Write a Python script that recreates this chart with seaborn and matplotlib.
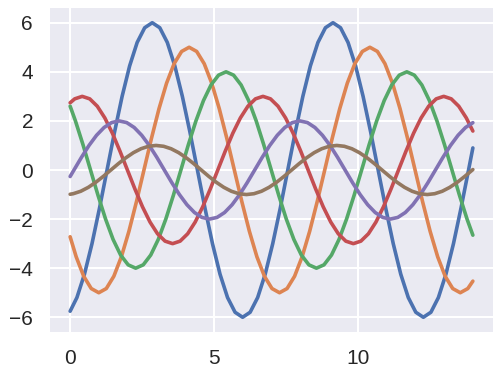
import numpy as np
import pandas as pd
import matplotlib
matplotlib.use("Agg")
import matplotlib.pyplot as plt
import seaborn as sns

# Values (one list of x and y per curve)
blue_x = [0.0, 0.236, 0.498, 0.760, 1.021, 1.283, 1.545, 1.807, 2.069, 2.330, 2.592, 2.854, 3.116, 3.378, 3.639,
          3.901, 4.163, 4.425, 4.687, 4.948, 5.210, 5.472, 5.734, 5.996, 6.257, 6.519, 6.781, 7.043, 7.305,
          7.566, 7.828, 8.090, 8.352, 8.614, 8.875, 9.137, 9.399, 9.661, 9.923, 10.184, 10.446, 10.708,
          10.970, 11.232, 11.493, 11.755, 12.017, 12.279, 12.541, 12.802, 13.064, 13.326, 13.588, 13.850, 14.0]
blue_y = [-5.754, -5.196, -4.243, -3.0, -1.553, 0.0, 1.553, 3.0, 4.243, 5.196, 5.796, 6.0, 5.796, 5.196, 4.243,
          3.0, 1.553, 0.0, -1.553, -3.0, -4.243, -5.196, -5.796, -6.0, -5.796,
          -5.196, -4.243, -3.0, -1.553, 0.0, 1.553, 3.0, 4.243, 5.196, 5.796, 6.0, 5.796, 5.196, 4.243,
          3.0, 1.553, 0.0, -1.553, -3.0, -4.243, -5.196, -5.796, -6.0, -5.796,
          -5.196, -4.243, -3.0, -1.553, 0.0, 0.899]

orange_x = [0.0, 0.210, 0.472, 0.734, 0.996, 1.257, 1.519, 1.781, 2.043, 2.305, 2.566, 2.828, 3.090, 3.352, 3.614,
            3.875, 4.137, 4.399, 4.661, 4.923, 5.184, 5.446, 5.708, 5.970, 6.232, 6.493, 6.755, 7.017, 7.279,
            7.541, 7.802, 8.064, 8.326, 8.588, 8.850, 9.111, 9.373, 9.635, 9.897, 10.159, 10.420, 10.682,
            10.944, 11.206, 11.468, 11.729, 11.991, 12.253, 12.515, 12.777, 13.038, 13.300, 13.562, 13.824, 14.0]
orange_y = [-2.720, -3.536, -4.330, -4.830, -5.0, -4.830, -4.330, -3.536, -2.5, -1.294, 0.0, 1.294, 2.5, 3.536,
            4.330, 4.830, 5.0, 4.830, 4.330, 3.536, 2.5, 1.294, 0.0, -1.294, -2.5,
            -3.536, -4.330, -4.830, -5.0, -4.830, -4.330, -3.536, -2.5, -1.294, 0.0, 1.294, 2.5, 3.536,
            4.330, 4.830, 5.0, 4.830, 4.330, 3.536, 2.5, 1.294, 0.0, -1.294, -2.5,
            -3.536, -4.330, -4.830, -5.0, -4.830, -4.528]

green_x = [0.0, 0.184, 0.446, 0.708, 0.970, 1.232, 1.493, 1.755, 2.017, 2.279, 2.541, 2.802, 3.064, 3.326, 3.588,
           3.850, 4.111, 4.373, 4.635, 4.897, 5.159, 5.420, 5.682, 5.944, 6.206, 6.468, 6.729, 6.991, 7.253,
           7.515, 7.777, 8.038, 8.300, 8.562, 8.824, 9.086, 9.347, 9.609, 9.871, 10.133, 10.395, 10.656,
           10.918, 11.180, 11.442, 11.704, 11.965, 12.227, 12.489, 12.751, 13.013, 13.274, 13.536, 13.798, 14.0]
green_y = [2.601, 2.0, 1.035, 0.0, -1.035, -2.0, -2.828, -3.464, -3.864, -4.0, -3.864, -3.464, -2.828, -2.0,
           -1.035, 0.0, 1.035, 2.0, 2.828, 3.464, 3.864, 4.0, 3.864, 3.464, 2.828,
           2.0, 1.035, 0.0, -1.035, -2.0, -2.828, -3.464, -3.864, -4.0, -3.864, -3.464, -2.828, -2.0,
           -1.035, 0.0, 1.035, 2.0, 2.828, 3.464, 3.864, 4.0, 3.864, 3.464, 2.828,
           2.0, 1.035, 0.0, -1.035, -2.0, -2.655]

red_x = [0.0, 0.159, 0.420, 0.682, 0.944, 1.206, 1.468, 1.729, 1.991, 2.253, 2.515, 2.777, 3.038, 3.300, 3.562,
         3.824, 4.086, 4.347, 4.609, 4.871, 5.133, 5.395, 5.656, 5.918, 6.180, 6.442, 6.704, 6.965, 7.227,
         7.489, 7.751, 8.013, 8.274, 8.536, 8.798, 9.060, 9.322, 9.583, 9.845, 10.107, 10.369, 10.631,
         10.892, 11.154, 11.416, 11.678, 11.940, 12.201, 12.463, 12.725, 12.987, 13.249, 13.510, 13.772, 14.0]
red_y = [2.739, 2.898, 3.0, 2.898, 2.598, 2.121, 1.5, 0.776, 0.0, -0.776, -1.5, -2.121, -2.598, -2.898, -3.0,
         -2.898, -2.598, -2.121, -1.5, -0.776, 0.0, 0.776, 1.5, 2.121, 2.598,
         2.898, 3.0, 2.898, 2.598, 2.121, 1.5, 0.776, 0.0, -0.776, -1.5, -2.121, -2.598, -2.898, -3.0,
         -2.898, -2.598, -2.121, -1.5, -0.776, 0.0, 0.776, 1.5, 2.121, 2.598,
         2.898, 3.0, 2.898, 2.598, 2.121, 1.587]

purple_x = [0.0, 0.133, 0.395, 0.656, 0.918, 1.180, 1.442, 1.704, 1.965, 2.227, 2.489, 2.751, 3.013, 3.274, 3.536,
            3.798, 4.060, 4.322, 4.583, 4.845, 5.107, 5.369, 5.631, 5.892, 6.154, 6.416, 6.678, 6.940, 7.201,
            7.463, 7.725, 7.987, 8.249, 8.510, 8.772, 9.034, 9.296, 9.558, 9.819, 10.081, 10.343, 10.605,
            10.867, 11.128, 11.390, 11.652, 11.914, 12.176, 12.437, 12.699, 12.961, 13.223, 13.485, 13.746, 14.0]
purple_y = [-0.265, 0.0, 0.518, 1.0, 1.414, 1.732, 1.932, 2.0, 1.932, 1.732, 1.414, 1.0, 0.518, 0.0, -0.518,
            -1.0, -1.414, -1.732, -1.932, -2.0, -1.932, -1.732, -1.414, -1.0, -0.518,
            0.0, 0.518, 1.0, 1.414, 1.732, 1.932, 2.0, 1.932, 1.732, 1.414, 1.0, 0.518, 0.0, -0.518,
            -1.0, -1.414, -1.732, -1.932, -2.0, -1.932, -1.732, -1.414, -1.0, -0.518,
            0.0, 0.518, 1.0, 1.414, 1.732, 1.928]

brown_x = [0.0, 0.107, 0.369, 0.631, 0.892, 1.154, 1.416, 1.678, 1.940, 2.201, 2.463, 2.725, 2.987, 3.249, 3.510,
           3.772, 4.034, 4.296, 4.558, 4.819, 5.081, 5.343, 5.605, 5.867, 6.128, 6.390, 6.652, 6.914, 7.176,
           7.437, 7.699, 7.961, 8.223, 8.485, 8.746, 9.008, 9.270, 9.532, 9.794, 10.055, 10.317, 10.579,
           10.841, 11.103, 11.364, 11.626, 11.888, 12.150, 12.412, 12.673, 12.935, 13.197, 13.459, 13.720,
           13.982, 14.0]
brown_y = [-0.988, -0.966, -0.866, -0.707, -0.5, -0.259, 0.0, 0.259, 0.5, 0.707, 0.866, 0.966, 1.0, 0.966, 0.866,
           0.707, 0.5, 0.259, 0.0, -0.259, -0.5, -0.707, -0.866, -0.966, -1.0,
           -0.966, -0.866, -0.707, -0.5, -0.259, 0.0, 0.259, 0.5, 0.707, 0.866, 0.966, 1.0, 0.966, 0.866,
           0.707, 0.5, 0.259, 0.0, -0.259, -0.5, -0.707, -0.866, -0.966, -1.0,
           -0.966, -0.866, -0.707, -0.5, -0.259, 0.0, 0.018]

curve_names = ["1", "2", "3", "4", "5", "6"]
xs = [blue_x, orange_x, green_x, red_x, purple_x, brown_x]
ys = [blue_y, orange_y, green_y, red_y, purple_y, brown_y]

frames = [pd.DataFrame({"x": x, "y": y, "curve": n}) for n, x, y in zip(curve_names, xs, ys)]
df = pd.concat(frames, ignore_index=True)

sns.set_theme(style="darkgrid", context="talk")
plt.rcParams["font.family"] = ["Liberation Sans", "DejaVu Sans"]

fig = plt.figure(figsize=(5.01, 3.76), dpi=100)
ax = fig.add_axes([50 / 501, 1 - 332 / 376, 443 / 501, 324 / 376])
sns.lineplot(data=df, x="x", y="y", hue="curve", palette="deep", estimator=None,
             sort=False, legend=False, linewidth=2.6, ax=ax)
ax.set_xlabel("")
ax.set_ylabel("")
ax.set_xticks([0, 5, 10])
ax.set_yticks([-6, -4, -2, 0, 2, 4, 6])
ax.tick_params(axis="both", labelsize=15, length=0, pad=12.2, labelcolor="#262626")
for s in ax.spines.values():
    s.set_visible(False)
ax.grid(True, color="white", linewidth=1.5)

fig.savefig("out.png", dpi=100)
